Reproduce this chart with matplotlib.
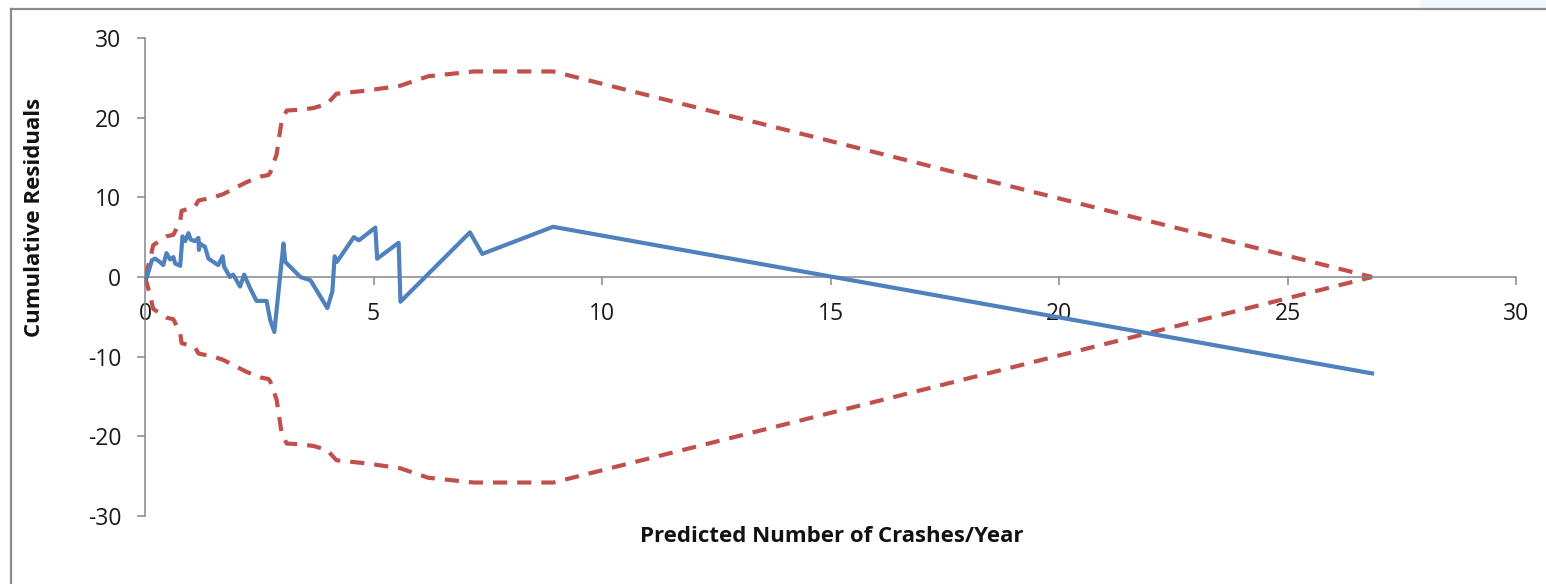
import matplotlib
matplotlib.use("Agg")
import matplotlib.pyplot as plt
from matplotlib.patches import Rectangle

# cumulative residuals vs predicted crashes
pred = [0.04, 0.11, 0.15, 0.22, 0.30, 0.40, 0.47, 0.55, 0.62, 0.66, 0.77,
        0.82, 0.88, 0.95, 1.00, 1.09, 1.17, 1.18, 1.20, 1.31, 1.39, 1.60,
        1.70, 1.73, 1.86, 1.93, 2.08, 2.17, 2.30, 2.44, 2.66, 2.74, 2.83,
        3.03, 3.07, 3.40, 3.62, 3.99, 4.10, 4.15, 4.20, 4.57, 4.68, 5.04,
        5.08, 5.55, 5.59, 7.11, 7.38, 8.93, 26.85]
resid = [0.0, 1.3, 2.1, 2.3, 2.0, 1.5, 3.0, 2.2, 2.5, 1.7, 1.4,
         5.1, 4.5, 5.5, 4.7, 4.5, 4.9, 3.4, 4.2, 3.8, 2.3, 1.5,
         2.6, 1.3, 0.0, 0.3, -1.2, 0.3, -1.4, -3.0, -3.0, -5.4, -6.9,
         4.2, 1.9, 0.0, -0.4, -3.9, -1.8, 2.6, 1.9, 5.0, 4.6, 6.2,
         2.3, 4.3, -3.1, 5.6, 2.9, 6.3, -12.1]

# confidence limits
limit_x = [0.0, 0.10, 0.18, 0.47, 0.62, 0.77, 0.80, 1.09, 1.17, 1.50, 1.71,
           2.22, 2.52, 2.70, 2.74, 2.88, 2.99, 3.10, 3.39, 3.68, 3.98, 4.19,
           4.85, 5.58, 6.20, 7.20, 8.93, 26.85]
upper = [0.0, 2.0, 4.0, 5.1, 5.3, 7.0, 8.3, 8.8, 9.6, 10.0, 10.4,
         11.9, 12.6, 12.8, 13.1, 15.4, 19.6, 20.9, 21.0, 21.2, 21.7, 23.0,
         23.4, 24.0, 25.2, 25.8, 25.8, 0.0]
lower = [0.0, -2.0, -4.0, -5.1, -5.3, -7.0, -8.3, -8.8, -9.6, -10.0, -10.4,
         -11.9, -12.6, -12.8, -13.1, -15.4, -19.6, -20.9, -21.0, -21.2, -21.7, -23.0,
         -23.4, -24.0, -25.2, -25.8, -25.8, 0.0]

x_ticks = [0, 5, 10, 15, 20, 25, 30]
y_ticks = [-30, -20, -10, 0, 10, 20, 30]

plt.rcParams['font.family'] = ['Open Sans', 'DejaVu Sans']
plt.rcParams['axes.unicode_minus'] = False

fig = plt.figure(figsize=(15.46, 5.84), dpi=100)
ax = fig.add_axes([145 / 1546, 1 - 516 / 584, 1371 / 1546, 478 / 584])

ax.plot(pred, resid, color='#4F81BD', lw=3.0, solid_joinstyle='round', zorder=3)
for lim in (upper, lower):
    ax.plot(limit_x, lim, color='#C0504D', lw=3.0, dashes=(3.4, 2.4),
            dash_capstyle='butt', zorder=2)

ax.set_xlim(0, 30)
ax.set_ylim(-30, 30)
ax.set_xticks(x_ticks)
ax.set_yticks(y_ticks)

for s in ('top', 'right'):
    ax.spines[s].set_visible(False)
ax.spines['bottom'].set_position(('data', 0))
for s in ('left', 'bottom'):
    ax.spines[s].set_color('#868686')
    ax.spines[s].set_linewidth(1.1)

ax.tick_params(axis='x', direction='out', length=6, width=1.1, color='#868686',
               labelsize=16.5, pad=12, labelcolor='#1a1a1a')
ax.tick_params(axis='y', direction='out', length=6, width=1.1, color='#868686',
               labelsize=16.5, pad=11, labelcolor='#1a1a1a')

fig.text(35 / 1546, 1 - 217 / 584, 'Cumulative Residuals', rotation=90,
         ha='center', va='center', fontsize=16, fontweight='bold', color='#111111')
fig.text(832 / 1546, 1 - 536 / 584, 'Predicted Number of Crashes/Year',
         ha='center', va='center', fontsize=16, fontweight='bold', color='#111111')

# chart frame
fig.patches.append(Rectangle((1420 / 1546, 1 - 9 / 584), 126 / 1546, 9 / 584,
                             transform=fig.transFigure, color='#F2F7FC', zorder=0))
fig.add_artist(plt.Line2D([11 / 1546, 11 / 1546], [0, 1 - 9 / 584],
                          transform=fig.transFigure, color='#8C8C8C', lw=1.6))
fig.add_artist(plt.Line2D([11 / 1546, 1], [1 - 9 / 584, 1 - 9 / 584],
                          transform=fig.transFigure, color='#8C8C8C', lw=1.6))

fig.savefig('out.png', dpi=100)
